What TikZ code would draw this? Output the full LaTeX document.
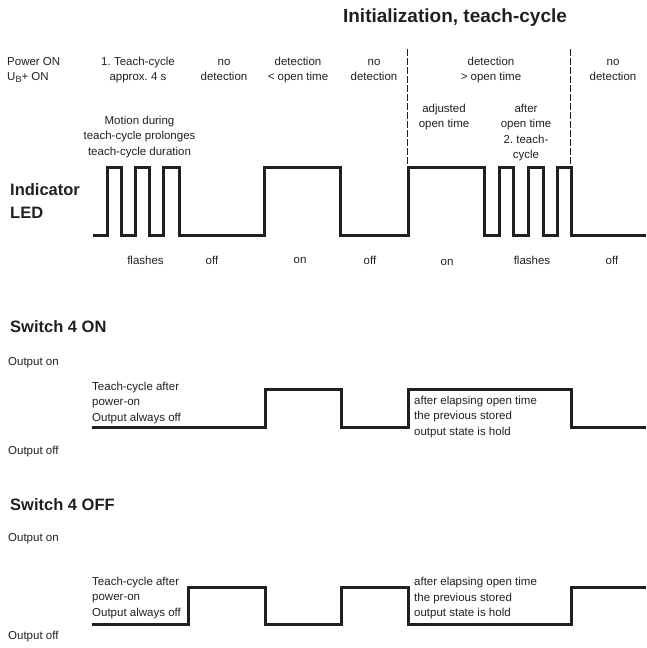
\documentclass[tikz,border=0pt]{standalone}
\usepackage{fontspec}
\setmainfont{Liberation Sans}
\definecolor{ink}{HTML}{231F20}
\frenchspacing
\begin{document}
\begin{tikzpicture}[x=1pt,y=-1pt,
  lbl/.style={inner sep=0pt,align=center,text=ink,font=\fontsize{11.5}{15.5}\selectfont},
  lbll/.style={inner sep=0pt,align=left,text=ink,font=\fontsize{11.5}{15.5}\selectfont},
  head/.style={inner sep=0pt,align=left,text=ink,font=\fontsize{16.5}{23}\selectfont\bfseries},
  wave/.style={line width=3pt,draw=ink,line join=miter},
  divider/.style={line width=0.8pt,draw=ink,dash pattern=on 7pt off 2pt}]
\useasboundingbox (0,0) rectangle (646,648);
% title
\node[inner sep=0pt,text=ink,font=\fontsize{19}{23}\selectfont\bfseries] (title) at (455,18) {Initialization, teach-cycle};
% top row labels
\node[lbll,anchor=west] (power) at (7,70) {Power ON\\U\raisebox{-0.35ex}{\fontsize{9}{9}\selectfont B}+ ON};
\node[lbl] (tc1) at (138,70) {1. Teach-cycle\\approx. 4 s};
\node[lbl] (nd1) at (224,70) {no\\detection};
\node[lbl] (det1) at (298,70) {detection\\< open time};
\node[lbl] (nd2) at (374,70) {no\\detection};
\node[lbl] (det2) at (491,70) {detection\\> open time};
\node[lbl] (nd3) at (613,70) {no\\detection};
\node[lbl] (motion) at (139.5,137) {Motion during\\teach-cycle prolonges\\teach-cycle duration};
\node[lbl] (adj) at (444,117) {adjusted\\open time};
\node[lbl] (after) at (526,132.5) {after\\open time\\2. teach-\\cycle};
% indicator LED
\node[head,anchor=west] (led) at (10,201) {Indicator\\LED};
\draw[wave] (93,235) -- (107,235) -- (107,167) -- (121,167) -- (121,235) -- (135,235) -- (135,167) -- (149,167) -- (149,235) -- (163,235) -- (163,167) -- (179,167) -- (179,235) -- (264,235) -- (264,167) -- (340,167) -- (340,235) -- (408,235) -- (408,167) -- (484,167) -- (484,235) -- (499,235) -- (499,167) -- (513,167) -- (513,235) -- (528,235) -- (528,167) -- (543,167) -- (543,235) -- (557,235) -- (557,167) -- (571,167) -- (571,235) -- (646,235);
\coordinate (d1t) at (407.5,49);
\coordinate (d1b) at (407.5,167);
\coordinate (d2t) at (570.5,49);
\coordinate (d2b) at (570.5,167);
\draw[divider] (d1t) -- (d1b);
\draw[divider] (d2t) -- (d2b);
\node[lbl] (s1) at (145.5,260) {flashes};
\node[lbl] (s2) at (212,260) {off};
\node[lbl] (s3) at (300,260) {on};
\node[lbl] (s4) at (370,260) {off};
\node[lbl] (s5) at (447,262) {on};
\node[lbl] (s6) at (532,260) {flashes};
\node[lbl] (s7) at (612,260) {off};
% switch 4 ON
\node[head,anchor=west] (sw1) at (10,327) {Switch 4 ON};
\node[lbll,anchor=west] (on1) at (8,363) {Output on};
\node[lbll,anchor=west] (off1) at (8,452) {Output off};
\node[lbll,anchor=west] (tca) at (92,403) {Teach-cycle after\\power-on\\Output always off};
\node[lbll,anchor=west] (hold1) at (414,417) {after elapsing open time\\the previous stored\\output state is hold};
\draw[wave] (92,427) -- (265,427) -- (265,389) -- (341,389) -- (341,427) -- (408,427) -- (408,389) -- (571,389) -- (571,427) -- (646,427);
% switch 4 OFF
\node[head,anchor=west] (sw2) at (10,505) {Switch 4 OFF};
\node[lbll,anchor=west] (on2) at (8,539) {Output on};
\node[lbll,anchor=west] (off2) at (8,637) {Output off};
\node[lbll,anchor=west] (tcb) at (92,598) {Teach-cycle after\\power-on\\Output always off};
\node[lbll,anchor=west] (hold2) at (414,598.5) {after elapsing open time\\the previous stored\\output state is hold};
\draw[wave] (92,624) -- (188,624) -- (188,587) -- (265,587) -- (265,624) -- (341,624) -- (341,587) -- (408,587) -- (408,624) -- (571,624) -- (571,587) -- (646,587);
\end{tikzpicture}
\end{document}
